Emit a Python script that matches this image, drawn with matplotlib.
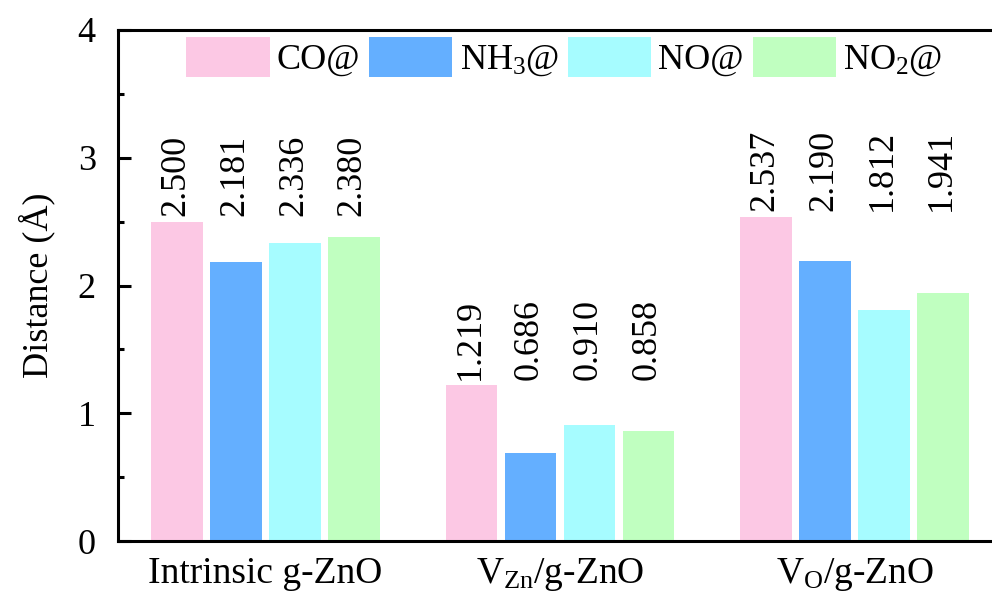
import matplotlib
matplotlib.use("Agg")
import matplotlib.pyplot as plt
import numpy as np

plt.rcParams['font.family'] = ['Liberation Serif', 'DejaVu Serif']
plt.rcParams['mathtext.fontset'] = 'custom'
plt.rcParams['mathtext.rm'] = 'Liberation Serif'
plt.rcParams['mathtext.it'] = 'Liberation Serif:italic'

groups = ['Intrinsic g-ZnO', r'V$_{\mathrm{Zn}}$/g-ZnO', r'V$_{\mathrm{O}}$/g-ZnO']
series = ['CO@', r'NH$_3$@', 'NO@', r'NO$_2$@']
co = [2.500, 1.219, 2.537]
nh3 = [2.181, 0.686, 2.190]
no = [2.336, 0.910, 1.812]
no2 = [2.380, 0.858, 1.941]
values = [co, nh3, no, no2]
colors = ['#FCC8E4', '#64AFFF', '#A6FCFF', '#C0FFC0']

fig = plt.figure(figsize=(9.92, 5.96), dpi=100)
ax = fig.add_axes([118/992, 1-541/596, (1002-118)/992, (541-30)/596])

x = np.arange(len(groups))
width = 0.175
offsets = [-0.3, -0.1, 0.1, 0.3]
fs = 26
for vals, off, c, lab in zip(values, offsets, colors, series):
    ax.bar(x + off, vals, width, color=c, label=lab, zorder=2)

for gi in range(len(groups)):
    top = max(v[gi] for v in values)
    for vals, off in zip(values, offsets):
        ax.annotate(f"{vals[gi]:.3f}", (x[gi] + off, top), xytext=(-1, 4),
                    textcoords='offset points', rotation=90, ha='center',
                    va='bottom', fontsize=fs)

ax.set_xlim(-0.5, 2.5)
ax.set_ylim(0, 4)
ax.set_xticks(x)
ax.set_xticklabels(groups, fontsize=27)
ax.set_yticks([0, 1, 2, 3, 4])
ax.set_yticks(np.arange(0.5, 4, 1), minor=True)
ax.tick_params(axis='y', which='major', direction='in', length=9, width=2.2,
               labelsize=fs, pad=16)
ax.tick_params(axis='y', which='minor', direction='in', length=4.5, width=2.2)
ax.tick_params(axis='x', which='both', length=0, pad=11)
ax.set_ylabel('Distance (Å)', fontsize=fs, labelpad=16)
for s in ax.spines.values():
    s.set_linewidth(2.2)

ax.legend(loc='upper center', bbox_to_anchor=(0.505, 1.0), ncol=4, frameon=False,
          fontsize=fs, handlelength=2.3, handleheight=1.3, handletextpad=0.2,
          columnspacing=0.25, borderaxespad=0.0, borderpad=0.2)

fig.savefig('out.png', dpi=100)
